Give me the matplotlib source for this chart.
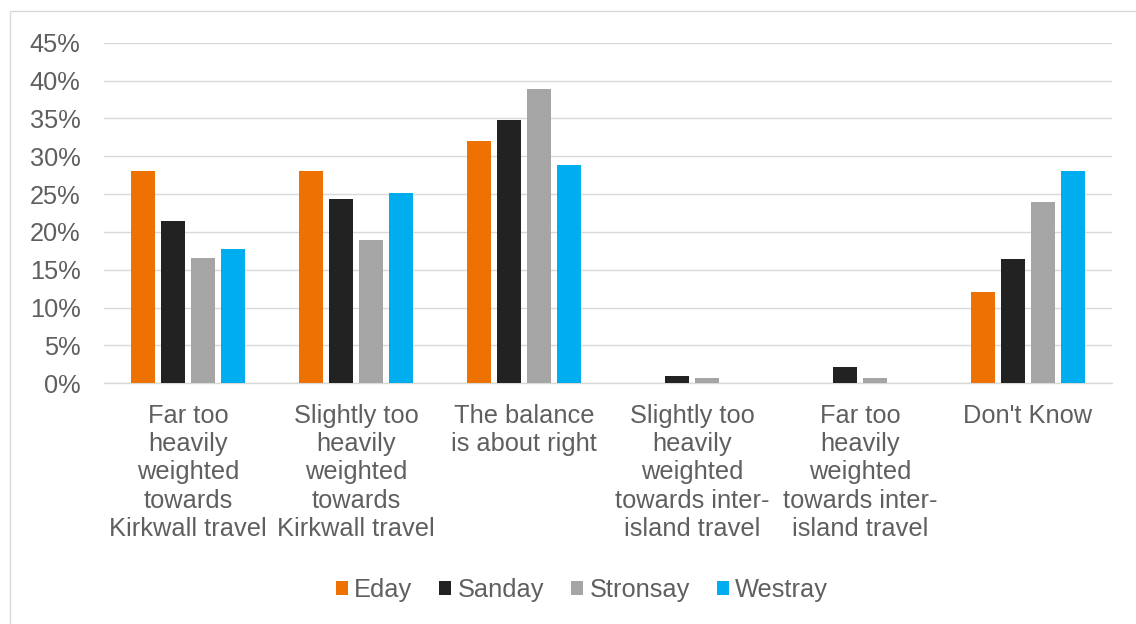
import matplotlib
matplotlib.use("Agg")
import matplotlib.pyplot as plt
from matplotlib.patches import Rectangle
import numpy as np

categories = [
    "Far too\nheavily\nweighted\ntowards\nKirkwall travel",
    "Slightly too\nheavily\nweighted\ntowards\nKirkwall travel",
    "The balance\nis about right",
    "Slightly too\nheavily\nweighted\ntowards inter-\nisland travel",
    "Far too\nheavily\nweighted\ntowards inter-\nisland travel",
    "Don't Know",
]
islands = ["Eday", "Sanday", "Stronsay", "Westray"]
eday = [28.0, 28.0, 32.0, 0.0, 0.0, 12.0]
sanday = [21.4, 24.4, 34.8, 1.0, 2.1, 16.4]
stronsay = [16.6, 18.9, 38.9, 0.7, 0.7, 24.0]
westray = [17.8, 25.1, 28.8, 0.0, 0.0, 28.0]
y_ticks = [0, 5, 10, 15, 20, 25, 30, 35, 40, 45]

colors = ["#EE7203", "#222222", "#A5A5A5", "#00AEEF"]
text_color = "#5F5F5F"
grid_color = "#D9D9D9"

plt.rcParams["font.family"] = ["Liberation Sans", "DejaVu Sans"]
fs = 18.3

fig = plt.figure(figsize=(11.36, 6.24), dpi=100)
ax = fig.add_axes([104 / 1136, 1 - 383.3 / 624, (1112 - 104) / 1136, (383.3 - 42.7) / 624])

x = np.arange(len(categories))
step = 0.18
width = 0.143
series = [eday, sanday, stronsay, westray]
for i, (name, vals, c) in enumerate(zip(islands, series, colors)):
    ax.bar(x + (i - 1.5) * step, vals, width=width, color=c, label=name, zorder=3)

ax.set_xlim(-0.5, len(categories) - 0.5)
ax.set_ylim(0, 45)
ax.set_yticks(y_ticks)
ax.set_yticklabels([f"{v}%" for v in y_ticks])
ax.set_xticks(x)
ax.set_xticklabels(categories, linespacing=1.22, va="top")
ax.yaxis.grid(True, color=grid_color, linewidth=1.0, zorder=0)
ax.set_axisbelow(True)

for side in ["left", "right", "top"]:
    ax.spines[side].set_visible(False)
ax.spines["bottom"].set_color(grid_color)
ax.spines["bottom"].set_linewidth(1.0)

ax.tick_params(axis="both", length=0, labelsize=fs, colors=text_color)
ax.tick_params(axis="y", pad=17)
ax.tick_params(axis="x", pad=15)

leg = fig.legend(
    loc="center", bbox_to_anchor=(582 / 1136, 1 - 590 / 624), ncol=4,
    frameon=False, fontsize=fs, handlelength=0.48, handleheight=0.48,
    handletextpad=0.25, columnspacing=1.05, borderaxespad=0,
)
for t in leg.get_texts():
    t.set_color(text_color)

# light frame around the chart area
fig.patches.append(Rectangle((10 / 1136, -0.1), 1.2, 1.1 - 11 / 624,
                             transform=fig.transFigure, fill=False,
                             edgecolor=grid_color, linewidth=1.0))

fig.savefig("out.png", dpi=100, facecolor="white")
